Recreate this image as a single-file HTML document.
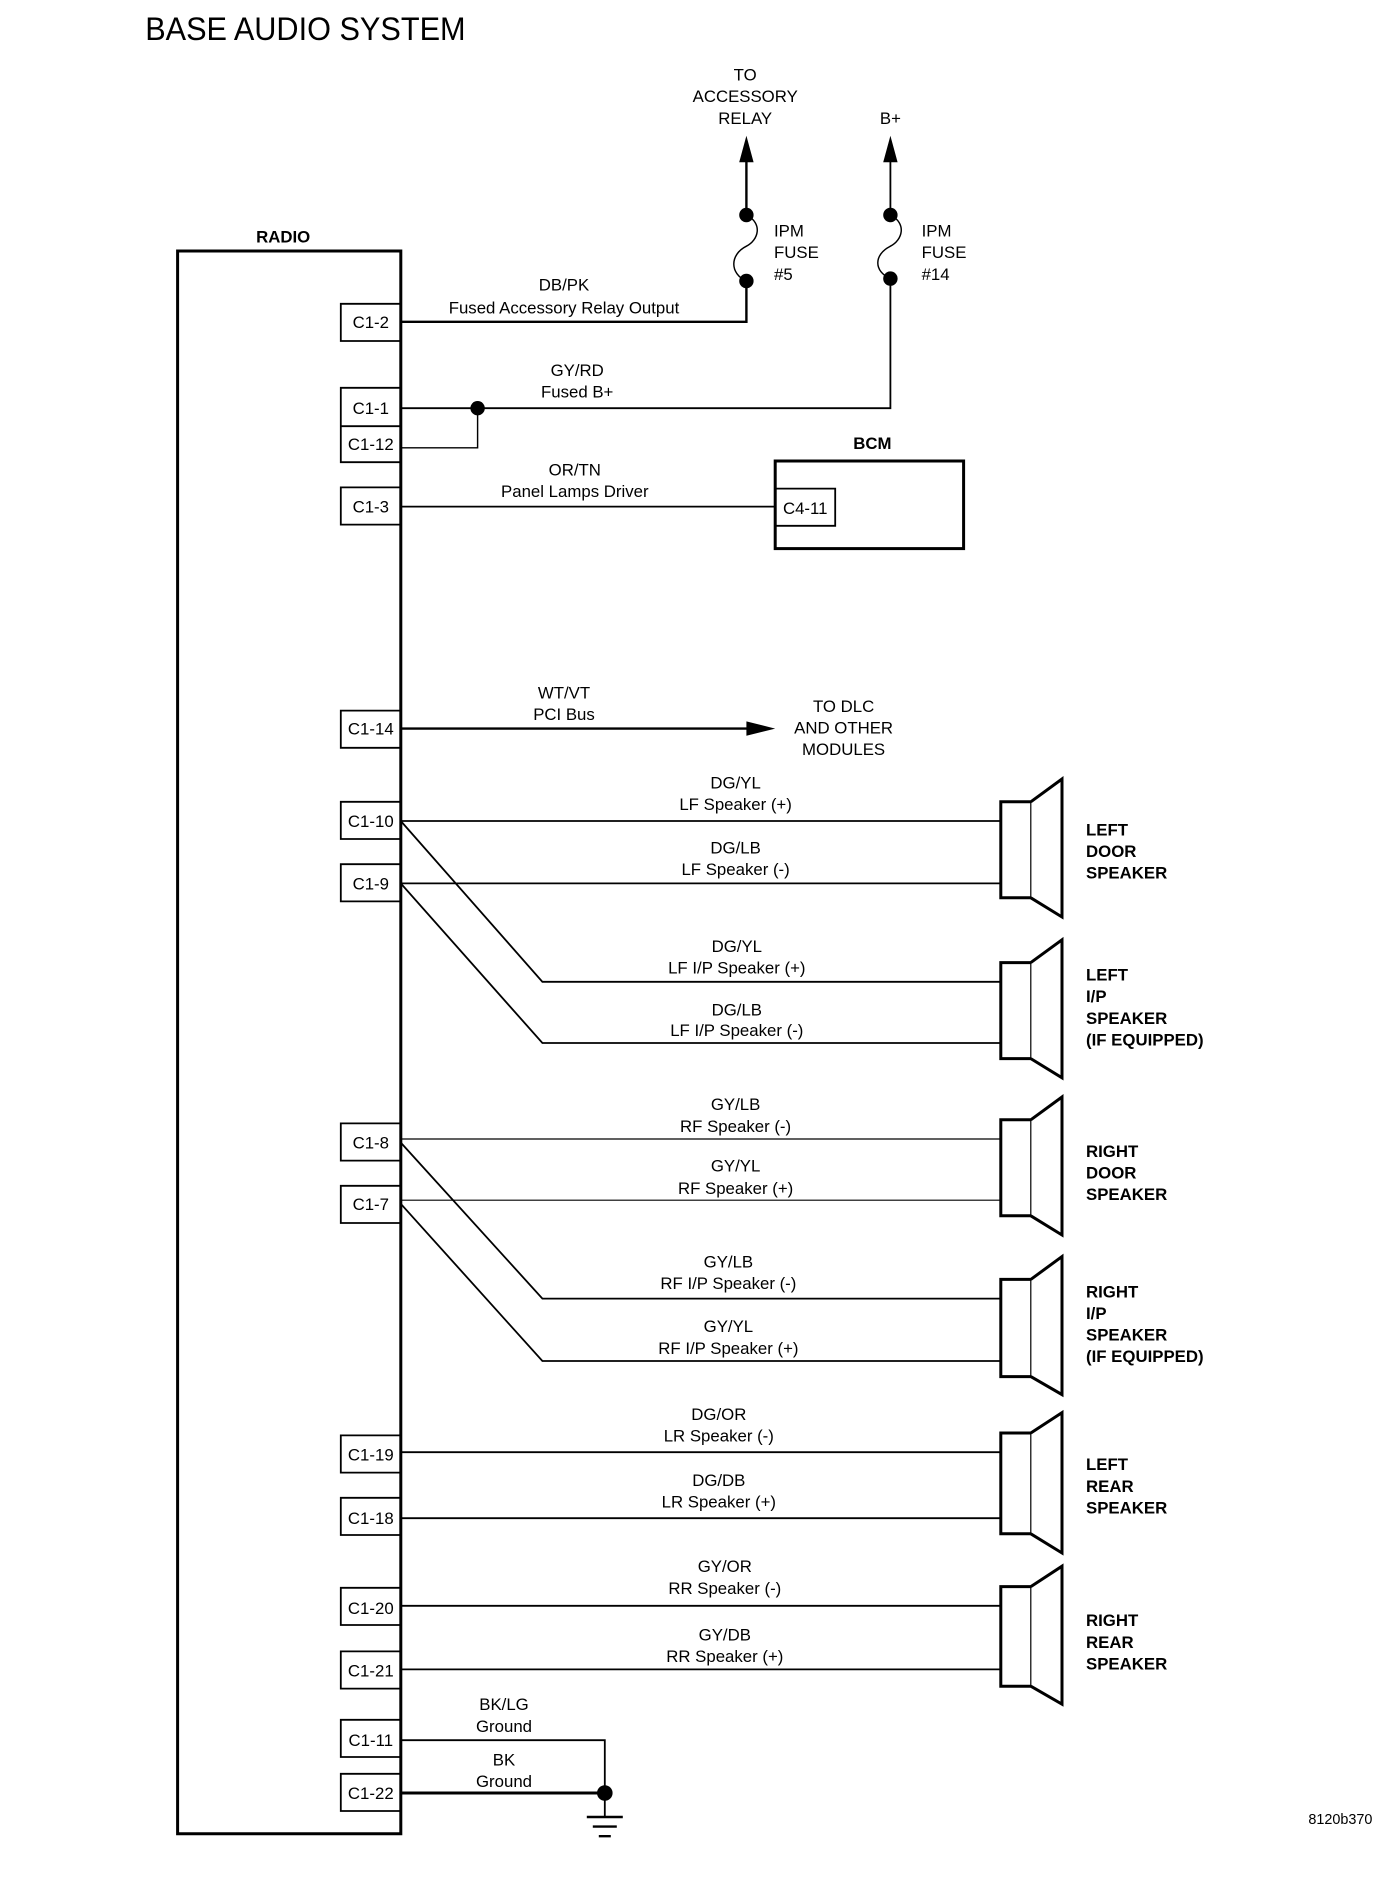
<!DOCTYPE html>
<html><head><meta charset="utf-8"><style>
html,body{margin:0;padding:0;background:#fff;}
svg{display:block;}
text{font-family:"Liberation Sans",sans-serif;font-size:14px;fill:#000;}
.c{text-anchor:middle;}
.b{font-weight:bold;}
</style></head><body>
<svg width="1392" height="1882" viewBox="0 0 1160 1568" xmlns="http://www.w3.org/2000/svg">
<rect width="1160" height="1568" fill="#fff"/>
<text x="121" y="33" style="font-size:27px" textLength="267" lengthAdjust="spacingAndGlyphs">BASE AUDIO SYSTEM</text>

<!-- Radio box -->
<text x="236" y="202" class="c b">RADIO</text>
<path d="M148,1528 V209 H334 V1528 Z" fill="none" stroke="#000" stroke-width="2.5"/>
<g fill="none" stroke="#000" stroke-width="1.5">
<path d="M334,253 H284 V284 H334"/>
<path d="M334,323 H284 V385 H334 M284,355 H334"/>
<path d="M334,406 H284 V437 H334"/>
<path d="M334,592 H284 V623 H334"/>
<path d="M334,668 H284 V699 H334"/>
<path d="M334,720 H284 V751 H334"/>
<path d="M334,936 H284 V967 H334"/>
<path d="M334,988 H284 V1019 H334"/>
<path d="M334,1196 H284 V1227 H334"/>
<path d="M334,1248 H284 V1279 H334"/>
<path d="M334,1323 H284 V1354 H334"/>
<path d="M334,1376 H284 V1407 H334"/>
<path d="M334,1433 H284 V1464 H334"/>
<path d="M334,1478 H284 V1509 H334"/>
</g>
<g class="c">
<text x="309" y="273">C1-2</text>
<text x="309" y="345">C1-1</text>
<text x="309" y="375">C1-12</text>
<text x="309" y="427">C1-3</text>
<text x="309" y="612">C1-14</text>
<text x="309" y="689">C1-10</text>
<text x="309" y="741">C1-9</text>
<text x="309" y="957">C1-8</text>
<text x="309" y="1008">C1-7</text>
<text x="309" y="1217">C1-19</text>
<text x="309" y="1270">C1-18</text>
<text x="309" y="1345">C1-20</text>
<text x="309" y="1397">C1-21</text>
<text x="309" y="1455">C1-11</text>
<text x="309" y="1499">C1-22</text>
</g>

<!-- Top: fuses -->
<g class="c">
<text x="621" y="67">TO</text>
<text x="621" y="85">ACCESSORY</text>
<text x="621" y="103">RELAY</text>
<text x="742" y="103">B+</text>
</g>
<text x="645" y="197">IPM</text><text x="645" y="215">FUSE</text><text x="645" y="233">#5</text>
<text x="768" y="197">IPM</text><text x="768" y="215">FUSE</text><text x="768" y="233">#14</text>
<g stroke="#000" fill="none">
<path d="M622,179 V130" stroke-width="2"/>
<path d="M742,179 V130" stroke-width="1.5"/>
<path d="M622,179 C636,186 632,200 622,205 C608,212 608,228 622,234" stroke-width="1.2"/>
<path d="M742,179 C756,186 752,200 742,205 C728,212 728,226 742,232" stroke-width="1.2"/>
<path d="M334,268 H622 V234" stroke-width="2"/>
<path d="M334,340 H742 V232" stroke-width="1.5"/>
<path d="M398,340 V373 H334" stroke-width="1.2"/>
<path d="M334,422 H646" stroke-width="1.5"/>
<path d="M334,607 H625" stroke-width="2"/>
</g>
<g fill="#000">
<polygon points="622,113 616,135 628,135"/>
<polygon points="742,113 736,135 748,135"/>
<polygon points="646,607 622,601 622,613"/>
<circle cx="622" cy="179" r="6"/><circle cx="622" cy="234" r="6"/>
<circle cx="742" cy="179" r="6"/><circle cx="742" cy="232" r="6"/>
<circle cx="398" cy="340" r="6"/>
<circle cx="504" cy="1494" r="6.5"/>
</g>
<g class="c">
<text x="470" y="242">DB/PK</text>
<text x="470" y="261">Fused Accessory Relay Output</text>
<text x="481" y="313">GY/RD</text>
<text x="481" y="331">Fused B+</text>
<text x="479" y="396">OR/TN</text>
<text x="479" y="414">Panel Lamps Driver</text>
<text x="470" y="582">WT/VT</text>
<text x="470" y="600">PCI Bus</text>
<text x="703" y="593">TO DLC</text>
<text x="703" y="611">AND OTHER</text>
<text x="703" y="629">MODULES</text>
<text x="727" y="374" class="b">BCM</text>
</g>
<rect x="646" y="384" width="157" height="73" fill="none" stroke="#000" stroke-width="2.5"/>
<path d="M646,407 H696 V438 H646" fill="none" stroke="#000" stroke-width="1.5"/>
<text x="671" y="428" class="c">C4-11</text>

<!-- Speaker wires -->
<g stroke="#000" fill="none" stroke-width="1.5">
<path d="M334,684 H834"/>
<path d="M334,736 H834"/>
<path d="M334,684 L452,818 H834"/>
<path d="M334,736 L452,869 H834"/>
<path d="M334,949 H834" stroke-width="1"/>
<path d="M334,1000 H834" stroke-width="1"/>
<path d="M334,952 L452,1082 H834"/>
<path d="M334,1003 L452,1134 H834"/>
<path d="M334,1210 H834"/>
<path d="M334,1265 H834"/>
<path d="M334,1338 H834"/>
<path d="M334,1391 H834"/>
<path d="M334,1450 H504 V1494"/>
<path d="M334,1494 H504" stroke-width="2.5"/>
<path d="M504,1494 V1514"/>
<path d="M489,1514 H519 M494,1522 H514 M499,1530 H509" stroke-width="2"/>
</g>
<g class="c">
<text x="613" y="657">DG/YL</text><text x="613" y="675">LF Speaker (+)</text>
<text x="613" y="711">DG/LB</text><text x="613" y="729">LF Speaker (-)</text>
<text x="614" y="793">DG/YL</text><text x="614" y="811">LF I/P Speaker (+)</text>
<text x="614" y="846">DG/LB</text><text x="614" y="863">LF I/P Speaker (-)</text>
<text x="613" y="925">GY/LB</text><text x="613" y="943">RF Speaker (-)</text>
<text x="613" y="976">GY/YL</text><text x="613" y="995">RF Speaker (+)</text>
<text x="607" y="1056">GY/LB</text><text x="607" y="1074">RF I/P Speaker (-)</text>
<text x="607" y="1110">GY/YL</text><text x="607" y="1128">RF I/P Speaker (+)</text>
<text x="599" y="1183">DG/OR</text><text x="599" y="1201">LR Speaker (-)</text>
<text x="599" y="1238">DG/DB</text><text x="599" y="1256">LR Speaker (+)</text>
<text x="604" y="1310">GY/OR</text><text x="604" y="1328">RR Speaker (-)</text>
<text x="604" y="1367">GY/DB</text><text x="604" y="1385">RR Speaker (+)</text>
<text x="420" y="1425">BK/LG</text><text x="420" y="1443">Ground</text>
<text x="420" y="1471">BK</text><text x="420" y="1489">Ground</text>
</g>

<!-- Speakers -->
<g stroke="#000" fill="none" stroke-width="2.5">
<path d="M859,668 H834 V748 H859 M859,668 L885,649 V764 L859,748"/>
<path d="M859,802 H834 V882 H859 M859,802 L885,783 V898 L859,882"/>
<path d="M859,933 H834 V1013 H859 M859,933 L885,914 V1029 L859,1013"/>
<path d="M859,1066 H834 V1147 H859 M859,1066 L885,1047 V1162 L859,1147"/>
<path d="M859,1194 H834 V1278 H859 M859,1194 L885,1177 V1294 L859,1278"/>
<path d="M859,1322 H834 V1405 H859 M859,1322 L885,1305 V1420 L859,1405"/>
</g>
<g stroke="#000" stroke-width="1">
<path d="M859,668 V748 M859,802 V882 M859,933 V1013 M859,1066 V1147 M859,1194 V1278 M859,1322 V1405"/>
</g>
<g class="b">
<text x="905" y="696">LEFT</text><text x="905" y="714">DOOR</text><text x="905" y="732">SPEAKER</text>
<text x="905" y="817">LEFT</text><text x="905" y="835">I/P</text><text x="905" y="853">SPEAKER</text><text x="905" y="871">(IF EQUIPPED)</text>
<text x="905" y="964">RIGHT</text><text x="905" y="982">DOOR</text><text x="905" y="1000">SPEAKER</text>
<text x="905" y="1081">RIGHT</text><text x="905" y="1099">I/P</text><text x="905" y="1117">SPEAKER</text><text x="905" y="1135">(IF EQUIPPED)</text>
<text x="905" y="1225">LEFT</text><text x="905" y="1243">REAR</text><text x="905" y="1261">SPEAKER</text>
<text x="905" y="1355">RIGHT</text><text x="905" y="1373">REAR</text><text x="905" y="1391">SPEAKER</text>
</g>
<text x="1117" y="1520" class="c" style="font-size:12px">8120b370</text>
</svg>
</body></html>
